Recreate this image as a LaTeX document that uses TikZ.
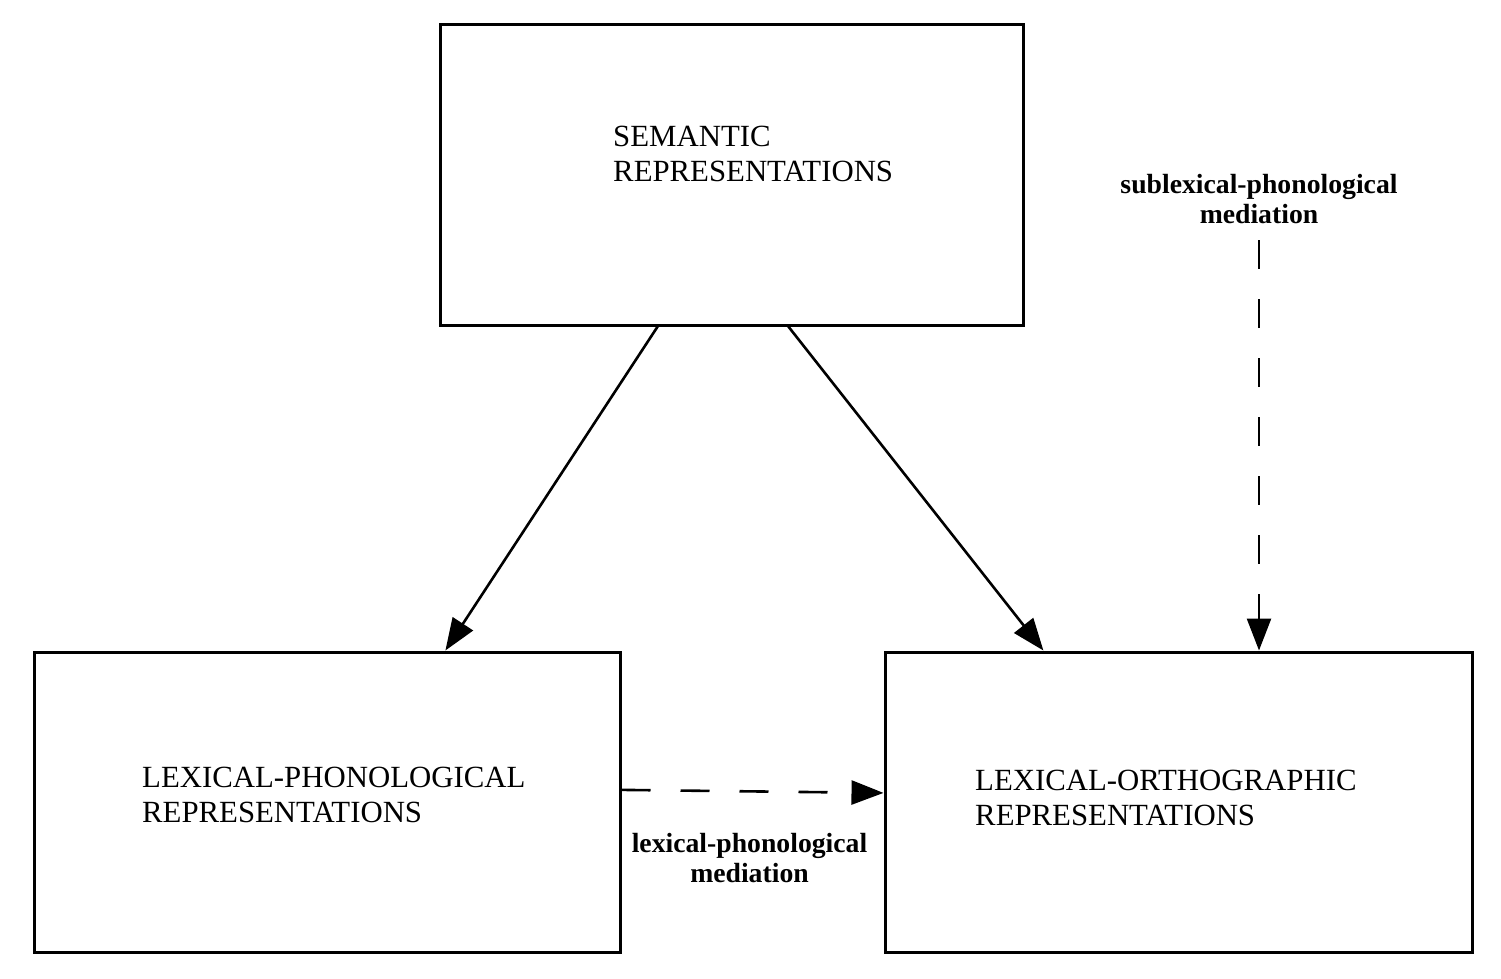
\documentclass[tikz,border=0pt]{standalone}
\usepackage{fontspec}
\setmainfont{Liberation Serif}
\usetikzlibrary{arrows.meta,calc}
\tikzset{
  repbox/.style={draw, line width=3pt, rectangle, minimum width=#1, minimum height=300pt, inner sep=0pt},
  reptext/.style={anchor=base west, align=left, inner sep=0pt, font=\fontsize{30.8}{34.5}\selectfont},
  medtext/.style={anchor=base, align=center, inner sep=0pt, font=\fontsize{27.7}{29.5}\selectfont\bfseries},
  route/.style={line width=2.6pt, -{Triangle[length=32pt,width=24pt]}},
  medroute/.style={route, dash pattern=on 29pt off 30pt}
}
\begin{document}
\begin{tikzpicture}[x=1pt,y=-1pt]
    \useasboundingbox (0,0) rectangle (1501,979);% page size of the reference
    \node[repbox=583pt] (sem) at (731.5,175) {};
    \node[repbox=586pt] (lexphon) at (327,802) {};
    \node[repbox=587pt] (lexorth) at (1178.5,802) {};
    % text nodes sit on the baseline of their last line
    \node[reptext] (semtxt) at (613,181) {SEMANTIC\\REPRESENTATIONS};
    \node[reptext] (lexphontxt) at (142,822) {LEXICAL-PHONOLOGICAL\\REPRESENTATIONS};
    \node[reptext] (lexorthtxt) at (975,825) {LEXICAL-ORTHOGRAPHIC\\REPRESENTATIONS};
    \node[medtext] (sublab) at (1259,223) {sublexical-phonological\\mediation};
    \node[medtext] (lexlab) at (749.5,882) {lexical-phonological\\mediation};
    \coordinate (subtop) at (1259,240);
    % semantic routes down to both lexicons
    \draw[route] ($(sem.south west)!0.374!(sem.south east)$)
        -- ($(lexphon.north west)!0.701!(lexphon.north east)$);
    \draw[route] ($(sem.south west)!0.597!(sem.south east)$)
        -- ($(lexorth.north west)!0.271!(lexorth.north east)$);
    % mediated routes
    \draw[medroute] (subtop) -- (subtop |- lexorth.north);
    \draw[medroute] ($(lexphon.north east)!0.46!(lexphon.south east)$)
        -- ($(lexorth.north west)!0.47!(lexorth.south west)$);
\end{tikzpicture}
\end{document}
